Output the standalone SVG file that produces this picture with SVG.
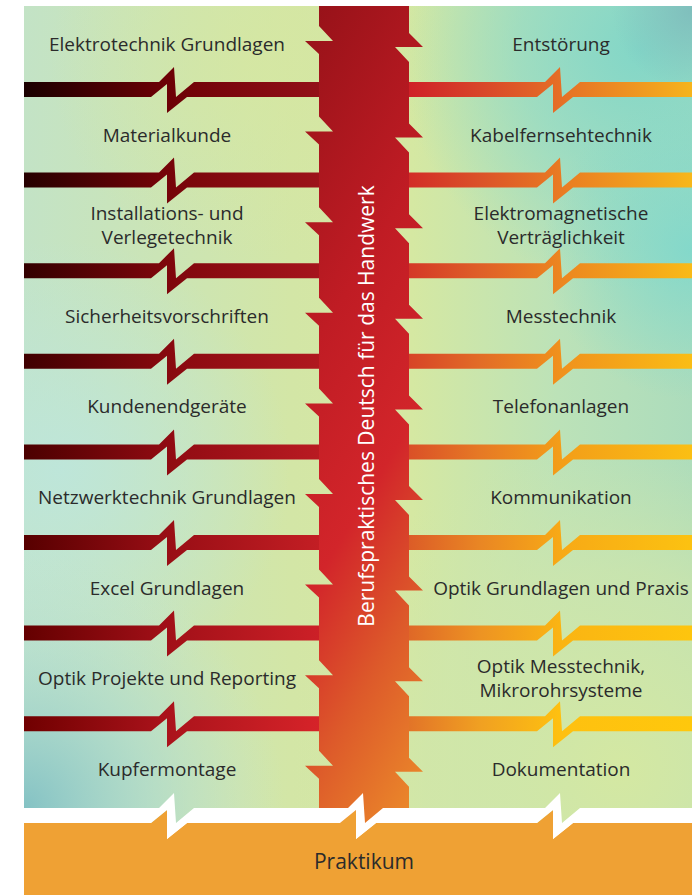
<svg xmlns="http://www.w3.org/2000/svg" xmlns:xlink="http://www.w3.org/1999/xlink" width="692" height="895" viewBox="0 0 692 895">
<style>
.lbl{font-family:"Open Sans","DejaVu Sans",sans-serif;font-size:19px;fill:#2b2b2b;text-anchor:middle}
.vt{font-family:"Open Sans","DejaVu Sans",sans-serif;font-size:21px;fill:#ffffff;text-anchor:middle}
.pk{font-family:"Open Sans","DejaVu Sans",sans-serif;font-size:21px;fill:#2b2b2b;text-anchor:middle}
</style>
<defs>
<linearGradient id="bg" gradientUnits="userSpaceOnUse" x1="24" y1="0" x2="692" y2="0">
<stop offset="0" stop-color="#c3e3c6"/><stop offset="0.4" stop-color="#d3e6a6"/><stop offset="0.58" stop-color="#d5e8a2"/><stop offset="0.8" stop-color="#bce2b8"/><stop offset="1" stop-color="#acdcbc"/>
</linearGradient>
<radialGradient id="r1" gradientUnits="userSpaceOnUse" cx="24" cy="808" r="260"><stop offset="0" stop-color="#84c2c4"/><stop offset="0.5" stop-color="#a8d8d0" stop-opacity="0.6"/><stop offset="1" stop-color="#c0e4d8" stop-opacity="0"/></radialGradient>
<radialGradient id="r2" gradientUnits="userSpaceOnUse" cx="60" cy="470" r="230"><stop offset="0" stop-color="#bde6dc" stop-opacity="0.9"/><stop offset="1" stop-color="#bde6dc" stop-opacity="0"/></radialGradient>
<radialGradient id="r3" gradientUnits="userSpaceOnUse" cx="620" cy="770" r="330"><stop offset="0" stop-color="#d4e8a2"/><stop offset="0.6" stop-color="#d0e6aa" stop-opacity="0.7"/><stop offset="1" stop-color="#d0e6aa" stop-opacity="0"/></radialGradient>
<radialGradient id="r4" gradientUnits="userSpaceOnUse" cx="640" cy="50" r="240"><stop offset="0" stop-color="#80d6c8" stop-opacity="0.95"/><stop offset="0.5" stop-color="#88d8c8" stop-opacity="0.6"/><stop offset="1" stop-color="#88d8c8" stop-opacity="0"/></radialGradient>
<radialGradient id="r5" gradientUnits="userSpaceOnUse" cx="692" cy="250" r="150"><stop offset="0" stop-color="#80d8cc" stop-opacity="0.9"/><stop offset="1" stop-color="#80d8cc" stop-opacity="0"/></radialGradient>
<radialGradient id="r7" gradientUnits="userSpaceOnUse" cx="692" cy="10" r="80"><stop offset="0" stop-color="#7ebcbc" stop-opacity="0.9"/><stop offset="1" stop-color="#7ebcbc" stop-opacity="0"/></radialGradient>
<radialGradient id="r6" gradientUnits="userSpaceOnUse" cx="250" cy="60" r="200"><stop offset="0" stop-color="#d6e7a0" stop-opacity="0.7"/><stop offset="1" stop-color="#d6e7a0" stop-opacity="0"/></radialGradient>
<linearGradient id="col" gradientUnits="userSpaceOnUse" x1="319" y1="6" x2="738" y2="257">
<stop offset="0" stop-color="#981219"/><stop offset="0.35" stop-color="#c01c24"/><stop offset="0.6" stop-color="#d2252a"/><stop offset="0.8" stop-color="#dd5a2a"/><stop offset="1" stop-color="#ea862a"/>
</linearGradient>
<linearGradient id="L0" gradientUnits="userSpaceOnUse" x1="24" y1="0" x2="319" y2="0"><stop offset="0" stop-color="rgb(26,0,0)"/><stop offset="0.46" stop-color="rgb(106,0,5)"/><stop offset="1" stop-color="rgb(147,16,24)"/></linearGradient>
<linearGradient id="L1" gradientUnits="userSpaceOnUse" x1="24" y1="0" x2="319" y2="0"><stop offset="0" stop-color="rgb(38,0,0)"/><stop offset="0.46" stop-color="rgb(115,3,8)"/><stop offset="1" stop-color="rgb(157,19,26)"/></linearGradient>
<linearGradient id="L2" gradientUnits="userSpaceOnUse" x1="24" y1="0" x2="319" y2="0"><stop offset="0" stop-color="rgb(51,0,0)"/><stop offset="0.46" stop-color="rgb(124,5,11)"/><stop offset="1" stop-color="rgb(166,21,29)"/></linearGradient>
<linearGradient id="L3" gradientUnits="userSpaceOnUse" x1="24" y1="0" x2="319" y2="0"><stop offset="0" stop-color="rgb(63,0,0)"/><stop offset="0.46" stop-color="rgb(133,8,14)"/><stop offset="1" stop-color="rgb(176,24,31)"/></linearGradient>
<linearGradient id="L4" gradientUnits="userSpaceOnUse" x1="24" y1="0" x2="319" y2="0"><stop offset="0" stop-color="rgb(75,0,0)"/><stop offset="0.46" stop-color="rgb(141,10,17)"/><stop offset="1" stop-color="rgb(185,27,34)"/></linearGradient>
<linearGradient id="L5" gradientUnits="userSpaceOnUse" x1="24" y1="0" x2="319" y2="0"><stop offset="0" stop-color="rgb(87,0,0)"/><stop offset="0.46" stop-color="rgb(150,13,20)"/><stop offset="1" stop-color="rgb(195,30,36)"/></linearGradient>
<linearGradient id="L6" gradientUnits="userSpaceOnUse" x1="24" y1="0" x2="319" y2="0"><stop offset="0" stop-color="rgb(100,0,0)"/><stop offset="0.46" stop-color="rgb(159,15,23)"/><stop offset="1" stop-color="rgb(204,32,39)"/></linearGradient>
<linearGradient id="L7" gradientUnits="userSpaceOnUse" x1="24" y1="0" x2="319" y2="0"><stop offset="0" stop-color="rgb(112,0,0)"/><stop offset="0.46" stop-color="rgb(168,18,26)"/><stop offset="1" stop-color="rgb(214,35,41)"/></linearGradient>
<linearGradient id="R0" gradientUnits="userSpaceOnUse" x1="409" y1="0" x2="692" y2="0"><stop offset="0" stop-color="rgb(207,32,39)"/><stop offset="0.25" stop-color="rgb(216,69,42)"/><stop offset="0.53" stop-color="rgb(229,110,38)"/><stop offset="1" stop-color="rgb(246,180,28)"/></linearGradient>
<linearGradient id="R1" gradientUnits="userSpaceOnUse" x1="409" y1="0" x2="692" y2="0"><stop offset="0" stop-color="rgb(210,44,39)"/><stop offset="0.25" stop-color="rgb(219,82,41)"/><stop offset="0.53" stop-color="rgb(233,122,35)"/><stop offset="1" stop-color="rgb(247,183,26)"/></linearGradient>
<linearGradient id="R2" gradientUnits="userSpaceOnUse" x1="409" y1="0" x2="692" y2="0"><stop offset="0" stop-color="rgb(212,56,39)"/><stop offset="0.25" stop-color="rgb(223,95,40)"/><stop offset="0.53" stop-color="rgb(236,133,32)"/><stop offset="1" stop-color="rgb(249,186,23)"/></linearGradient>
<linearGradient id="R3" gradientUnits="userSpaceOnUse" x1="409" y1="0" x2="692" y2="0"><stop offset="0" stop-color="rgb(215,68,39)"/><stop offset="0.25" stop-color="rgb(226,108,39)"/><stop offset="0.53" stop-color="rgb(240,145,29)"/><stop offset="1" stop-color="rgb(250,189,21)"/></linearGradient>
<linearGradient id="R4" gradientUnits="userSpaceOnUse" x1="409" y1="0" x2="692" y2="0"><stop offset="0" stop-color="rgb(218,80,39)"/><stop offset="0.25" stop-color="rgb(230,121,37)"/><stop offset="0.53" stop-color="rgb(243,157,25)"/><stop offset="1" stop-color="rgb(251,191,19)"/></linearGradient>
<linearGradient id="R5" gradientUnits="userSpaceOnUse" x1="409" y1="0" x2="692" y2="0"><stop offset="0" stop-color="rgb(220,92,39)"/><stop offset="0.25" stop-color="rgb(233,134,36)"/><stop offset="0.53" stop-color="rgb(247,169,22)"/><stop offset="1" stop-color="rgb(252,194,17)"/></linearGradient>
<linearGradient id="R6" gradientUnits="userSpaceOnUse" x1="409" y1="0" x2="692" y2="0"><stop offset="0" stop-color="rgb(223,104,39)"/><stop offset="0.25" stop-color="rgb(237,147,35)"/><stop offset="0.53" stop-color="rgb(250,180,19)"/><stop offset="1" stop-color="rgb(254,197,14)"/></linearGradient>
<linearGradient id="R7" gradientUnits="userSpaceOnUse" x1="409" y1="0" x2="692" y2="0"><stop offset="0" stop-color="rgb(226,116,40)"/><stop offset="0.25" stop-color="rgb(240,160,34)"/><stop offset="0.53" stop-color="rgb(254,192,16)"/><stop offset="1" stop-color="rgb(255,200,12)"/></linearGradient>
<path id="lbar" d="M24,0 H159 L174,-15 L176,15 L194,0 H325 V15 H187 L167,31 L167,2 L151,15 H24 Z"/>
<path id="rbar" d="M400,0 H545 L560,-15 L562,15 L580,0 H692 V15 H573 L553,31 L553,2 L537,15 H400 Z"/>
</defs>
<rect width="692" height="895" fill="#ffffff"/>
<g id="background">
<rect x="24" y="6" width="668" height="817" fill="url(#bg)"/>
<rect x="24" y="6" width="668" height="817" fill="url(#r6)"/>
<rect x="24" y="6" width="668" height="817" fill="url(#r2)"/>
<rect x="24" y="6" width="668" height="817" fill="url(#r1)"/>
<rect x="24" y="6" width="668" height="817" fill="url(#r3)"/>
<rect x="24" y="6" width="668" height="817" fill="url(#r4)"/>
<rect x="24" y="6" width="668" height="817" fill="url(#r5)"/>
<rect x="24" y="6" width="668" height="817" fill="url(#r7)"/>
</g>
<g id="connectors">
<use xlink:href="#lbar" y="82" fill="url(#L0)"/>
<use xlink:href="#lbar" y="172.6" fill="url(#L1)"/>
<use xlink:href="#lbar" y="263.2" fill="url(#L2)"/>
<use xlink:href="#lbar" y="353.8" fill="url(#L3)"/>
<use xlink:href="#lbar" y="444.4" fill="url(#L4)"/>
<use xlink:href="#lbar" y="535" fill="url(#L5)"/>
<use xlink:href="#lbar" y="625.6" fill="url(#L6)"/>
<use xlink:href="#lbar" y="716.2" fill="url(#L7)"/>
<use xlink:href="#rbar" y="82" fill="url(#R0)"/>
<use xlink:href="#rbar" y="172.6" fill="url(#R1)"/>
<use xlink:href="#rbar" y="263.2" fill="url(#R2)"/>
<use xlink:href="#rbar" y="353.8" fill="url(#R3)"/>
<use xlink:href="#rbar" y="444.4" fill="url(#R4)"/>
<use xlink:href="#rbar" y="535" fill="url(#R5)"/>
<use xlink:href="#rbar" y="625.6" fill="url(#R6)"/>
<use xlink:href="#rbar" y="716.2" fill="url(#R7)"/>
</g>
<g id="column">
<path fill="url(#col)" d="M319,6 V26 L333,41 L305,41 L319,54
V116.6 L333,131.6 L305,131.6 L319,144.6
V207.2 L333,222.2 L305,222.2 L319,235.2
V297.8 L333,312.8 L305,312.8 L319,325.8
V388.4 L333,403.4 L305,403.4 L319,416.4
V479 L333,494 L305,494 L319,507
V569.6 L333,584.6 L305,584.6 L319,597.6
V660.2 L333,675.2 L305,675.2 L319,688.2
V750.8 L333,765.8 L305,765.8 L319,778.8
V823 H409
V786.8 L395,771.8 L423,771.8 L409,757.8
V696.2 L395,681.2 L423,681.2 L409,667.2
V605.6 L395,590.6 L423,590.6 L409,576.6
V515 L395,500 L423,500 L409,486
V424.4 L395,409.4 L423,409.4 L409,395.4
V333.8 L395,318.8 L423,318.8 L409,304.8
V243.2 L395,228.2 L423,228.2 L409,214.2
V152.6 L395,137.6 L423,137.6 L409,123.6
V62 L395,47 L423,47 L409,33 V6 Z"/>
<text class="vt" transform="translate(374,406) rotate(-90)">Berufspraktisches Deutsch für das Handwerk</text>
</g>
<g id="praktikum">
<path fill="#efa134" d="M24,823 H151 L167,810 L167,839 L187,823 H340 L356,810 L356,839 L376,823 H537 L553,810 L553,839 L573,823 H692 V895 H24 Z"/>
<path fill="#ffffff" d="M24,808 H159 L174,793 L176,823 L194,808 H348 L363,793 L365,823 L383,808 H545 L560,793 L562,823 L580,808 H692 V823 H573 L553,839 L553,810 L537,823 H376 L356,839 L356,810 L340,823 H187 L167,839 L167,810 L151,823 H24 Z"/>
<text class="pk" x="364" y="869">Praktikum</text>
</g>
<g id="n-elektrotechnik"><text class="lbl" x="167" y="51">Elektrotechnik Grundlagen</text></g>
<g id="n-materialkunde"><text class="lbl" x="167" y="141.6">Materialkunde</text></g>
<g id="n-installation"><text class="lbl" x="167" y="220.2">Installations- und</text><text class="lbl" x="167" y="244.2">Verlegetechnik</text></g>
<g id="n-sicherheit"><text class="lbl" x="167" y="322.8">Sicherheitsvorschriften</text></g>
<g id="n-kunden"><text class="lbl" x="167" y="413.4">Kundenendgeräte</text></g>
<g id="n-netzwerk"><text class="lbl" x="167" y="504">Netzwerktechnik Grundlagen</text></g>
<g id="n-excel"><text class="lbl" x="167" y="594.6">Excel Grundlagen</text></g>
<g id="n-optikprojekte"><text class="lbl" x="167" y="685.2">Optik Projekte und Reporting</text></g>
<g id="n-kupfer"><text class="lbl" x="167" y="775.8">Kupfermontage</text></g>
<g id="n-entstoerung"><text class="lbl" x="561" y="51">Entstörung</text></g>
<g id="n-kabel"><text class="lbl" x="561" y="141.6">Kabelfernsehtechnik</text></g>
<g id="n-emv"><text class="lbl" x="561" y="220.2">Elektromagnetische</text><text class="lbl" x="561" y="244.2">Verträglichkeit</text></g>
<g id="n-messtechnik"><text class="lbl" x="561" y="322.8">Messtechnik</text></g>
<g id="n-telefon"><text class="lbl" x="561" y="413.4">Telefonanlagen</text></g>
<g id="n-kommunikation"><text class="lbl" x="561" y="504">Kommunikation</text></g>
<g id="n-optikgrund"><text class="lbl" x="561" y="594.6">Optik Grundlagen und Praxis</text></g>
<g id="n-optikmess"><text class="lbl" x="561" y="673.2">Optik Messtechnik,</text><text class="lbl" x="561" y="697.2">Mikrorohrsysteme</text></g>
<g id="n-doku"><text class="lbl" x="561" y="775.8">Dokumentation</text></g>
</svg>
